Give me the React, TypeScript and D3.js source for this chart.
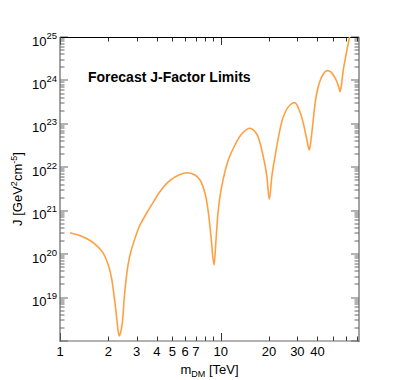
import React from "react";
import * as d3 from "d3";

const massTeV = [
  1.154, 1.313, 1.5, 1.651, 1.818, 1.905, 1.998, 2.098, 2.146, 2.199, 2.253, 2.296, 2.339, 2.38, 2.442,
  2.513, 2.585, 2.661, 2.757, 2.858, 3.044, 3.147, 3.478, 3.863, 4.192, 4.837, 5.581, 6.143, 6.92, 7.433,
  7.987, 8.337, 8.702, 9.085, 9.349, 9.662, 10.14, 11.15, 12.27, 13.51, 15.22, 16.75, 18.41, 19.33, 20.07,
  20.86, 21.77, 24.53, 27.0, 29.0, 31.16, 32.66, 34.3, 35.59, 36.47, 37.53, 38.63, 39.75, 41.48, 43.32,
  45.21, 46.73, 48.57, 50.22, 52.93, 54.48, 55.26, 56.3, 57.94, 60.23, 63.12, 64.7,
];
const jFactor = [
  3.12e20, 2.72e20, 2.17e20, 1.71e20, 1.18e20, 8.83e19, 5.62e19, 2.68e19, 1.5e19, 7.5e18, 3.39e18, 1.79e18,
  1.3e18, 1.53e18, 2.6e18, 1.03e19, 2.82e19, 6.1e19, 1.12e20, 1.76e20, 3.51e20, 4.69e20, 9.1e20, 1.72e21,
  2.77e21, 4.97e21, 6.82e21, 7.5e21, 6.64e21, 5.09e21,
  2.52e21, 1.04e21, 2.52e20, 5.62e19, 2.12e20, 1.04e21, 3.57e21, 1.47e22, 3.26e22, 5.85e22, 7.91e22, 5.85e22,
  1.75e22, 6.64e21, 1.83e21, 6.64e21, 1.75e22, 1.46e23, 2.72e23, 3.07e23, 1.87e23, 1.03e23, 4.48e22, 2.5e22,
  4.25e22, 1.1e23, 2.86e23, 5.42e23, 9.7e23, 1.37e24, 1.65e24, 1.67e24, 1.56e24, 1.33e24, 9.2e23, 6.7e23,
  5.51e23, 7.45e23, 1.74e24, 3.85e24, 9.33e24, 1.45e25,
];

const xTickValues = [1, 2, 3, 4, 5, 6, 7, 8, 9, 10, 20, 30, 40, 50, 60, 70];
const xTickLabels = ["1", "2", "3", "4", "5", "6", "7", "", "", "10", "20", "30", "40", "", "", ""];
const yDecades = [18, 19, 20, 21, 22, 23, 24, 25];
const yLabelDecades = [19, 20, 21, 22, 23, 24, 25];

const title = "Forecast J-Factor Limits";
const xTitleMain = "m";
const xTitleSub = "DM";
const xTitleRest = " [TeV]";

const W = 399;
const H = 380;
const L = 60;
const R = 359;
const T = 37;
const B = 341;
const FONT = "'Liberation Sans', Arial, Helvetica, sans-serif";

export default function App() {
  const x = d3.scaleLog().domain([1, 72.55]).range([L, R]);
  const y = d3.scaleLog().domain([1e18, 1e25]).range([B, T]);

  const pts: [number, number][] = massTeV.map((m, i) => [x(m), y(jFactor[i])]);
  const line = d3
    .line<[number, number]>()
    .x((d) => d[0])
    .y((d) => d[1])
    .curve(d3.curveCatmullRom.alpha(0.5));
  const path = line(pts) || "";

  const yMinor: number[] = [];
  for (let k = 18; k < 25; k++) {
    for (let m = 2; m <= 9; m++) yMinor.push(m * Math.pow(10, k));
  }

  const axisGray = "#666";

  return (
    <svg width={W} height={H} style={{ position: "absolute", left: 0, top: 0 }} fontFamily={FONT}>
      <rect x={0} y={0} width={W} height={H} fill="#fff" />
      <defs>
        <clipPath id="plotclip">
          <rect x={L} y={T} width={R - L} height={B - T} />
        </clipPath>
      </defs>

      {yDecades.map((k) => {
        const yy = Math.round(y(Math.pow(10, k)));
        return (
          <g key={"yd" + k}>
            <line x1={L} x2={L + 8} y1={yy} y2={yy} stroke={axisGray} strokeWidth={1} />
            <line x1={R} x2={R - 8} y1={yy} y2={yy} stroke={axisGray} strokeWidth={1} />
          </g>
        );
      })}
      {yMinor.map((v, i) => {
        const yy = Math.round(y(v));
        return (
          <g key={"ym" + i}>
            <line x1={L} x2={L + 4.5} y1={yy} y2={yy} stroke={axisGray} strokeWidth={1} />
            <line x1={R} x2={R - 4.5} y1={yy} y2={yy} stroke={axisGray} strokeWidth={1} />
          </g>
        );
      })}

      {xTickValues.map((v, i) => {
        const xx = Math.round(x(v)) + 0.5;
        const len = v === 1 || v === 10 ? 8 : 4.5;
        return (
          <g key={"xt" + i}>
            <line x1={xx} x2={xx} y1={B} y2={B - len} stroke="#333" strokeWidth={1} />
            <line x1={xx} x2={xx} y1={T} y2={T + len} stroke="#333" strokeWidth={1} />
          </g>
        );
      })}

      <line x1={L} x2={R} y1={T + 0.5} y2={T + 0.5} stroke="#000" strokeWidth={1} />
      <line x1={L} x2={L} y1={T} y2={B + 1} stroke={axisGray} strokeWidth={1.2} />
      <line x1={R} x2={R} y1={T} y2={B + 1} stroke={axisGray} strokeWidth={1.2} />
      <line x1={L} x2={R} y1={B} y2={B} stroke={axisGray} strokeWidth={1.2} />

      <path d={path} fill="none" stroke="#ffa040" strokeWidth={1.6} clipPath="url(#plotclip)" />

      {yLabelDecades.map((k) => (
        <text key={"yl" + k} x={57} y={y(Math.pow(10, k)) + 8.5} textAnchor="end" fontSize={13} fill="#000">
          <tspan>10</tspan>
          <tspan dy={-7} fontSize={9.5}>{String(k)}</tspan>
        </text>
      ))}

      {xTickValues.map((v, i) =>
        xTickLabels[i] ? (
          <text key={"xl" + i} x={x(v)} y={356} textAnchor="middle" fontSize={13} fill="#000">
            {xTickLabels[i]}
          </text>
        ) : null
      )}

      <text x={(L + R) / 2} y={374} textAnchor="middle" fontSize={13} fill="#000">
        <tspan>{xTitleMain}</tspan>
        <tspan fontSize={9} dy={3}>{xTitleSub}</tspan>
        <tspan dy={-3}>{xTitleRest}</tspan>
      </text>

      <text transform={`translate(22, ${(T + B) / 2}) rotate(-90)`} textAnchor="middle" fontSize={13} fill="#000">
        <tspan>J [GeV</tspan>
        <tspan fontSize={9} dy={-5}>2</tspan>
        <tspan dy={5}>cm</tspan>
        <tspan fontSize={9} dy={-5}>-5</tspan>
        <tspan dy={5}>]</tspan>
      </text>

      <text x={88} y={82} fontSize={14} fontWeight="bold" fill="#000">
        {title}
      </text>
    </svg>
  );
}
